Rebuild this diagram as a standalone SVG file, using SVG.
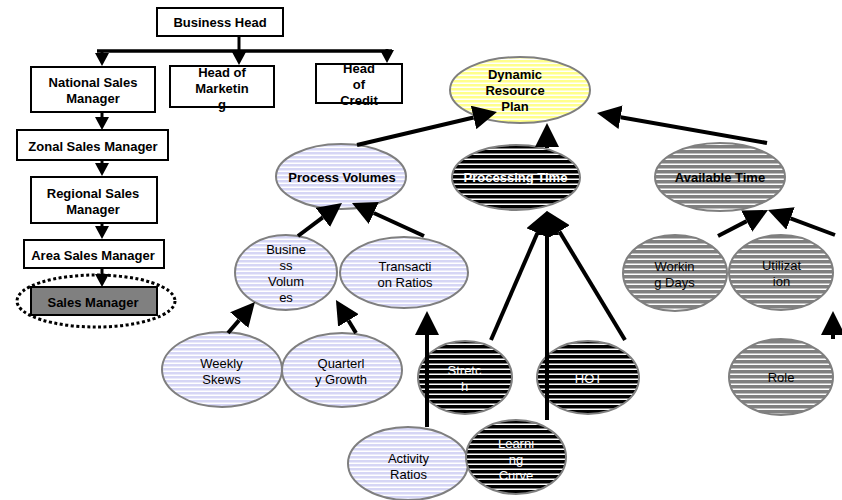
<svg xmlns="http://www.w3.org/2000/svg" width="842" height="500" viewBox="0 0 842 500">
  <style>
    .box { fill: #ffffff; stroke: #000000; stroke-width: 2; }
    .bt { font-family: "Liberation Sans", Arial, sans-serif; font-size: 13px; font-weight: bold; fill: #000000; text-anchor: middle; }
    .et { font-family: "Liberation Sans", Arial, sans-serif; font-size: 13px; fill: #000000; text-anchor: middle; }
    .etb { font-family: "Liberation Sans", Arial, sans-serif; font-size: 13px; font-weight: bold; fill: #000000; text-anchor: middle; }
    .w { fill: #ffffff; }
    .ell { stroke: #7f7f7f; stroke-width: 2; }
    .lav { fill: url(#stripe-lav); }
    .yel { fill: url(#stripe-yel); }
    .blk { fill: url(#stripe-blk); }
    .gry { fill: url(#stripe-gry); }
    .org { stroke: #000000; stroke-width: 3; fill: none; marker-end: url(#head-s); }
    .conn { stroke: #000000; stroke-width: 4; fill: none; marker-end: url(#head-l); }
  </style>
  <defs>
    <pattern id="stripe-lav" patternUnits="userSpaceOnUse" width="8" height="4">
      <rect width="8" height="4" fill="#d6d6f5"/>
      <rect y="2.5" width="8" height="1.5" fill="#ffffff"/>
    </pattern>
    <pattern id="stripe-yel" patternUnits="userSpaceOnUse" width="8" height="4">
      <rect width="8" height="4" fill="#ffff8c"/>
      <rect y="2.5" width="8" height="1.5" fill="#ffffff"/>
    </pattern>
    <pattern id="stripe-blk" patternUnits="userSpaceOnUse" width="8" height="5">
      <rect width="8" height="5" fill="#000000"/>
      <rect y="3.5" width="8" height="1.5" fill="#ffffff"/>
    </pattern>
    <pattern id="stripe-gry" patternUnits="userSpaceOnUse" width="8" height="5">
      <rect width="8" height="5" fill="#808080"/>
      <rect y="3.5" width="8" height="1.5" fill="#ffffff"/>
    </pattern>
    <marker id="head-s" markerUnits="userSpaceOnUse" markerWidth="13" markerHeight="14" refX="0" refY="7" orient="auto">
      <path d="M0,0 L13,7 L0,14 Z" fill="#000000"/>
    </marker>
    <marker id="head-l" markerUnits="userSpaceOnUse" markerWidth="24" markerHeight="24" refX="0" refY="12" orient="auto">
      <path d="M0,0 L24,12 L0,24 Z" fill="#000000"/>
    </marker>
  </defs>

  <rect width="842" height="500" fill="#ffffff"/>

  <!-- organisation chart -->
  <g id="business-head">
    <rect class="box" x="157" y="8" width="126" height="28"/>
    <text class="bt" x="220" y="26.5">Business Head</text>
  </g>
  <g id="national-sales-manager">
    <rect class="box" x="31" y="67" width="124" height="45"/>
    <text class="bt" x="93" y="87">National Sales</text>
    <text class="bt" x="93" y="103">Manager</text>
  </g>
  <g id="head-of-marketing">
    <rect class="box" x="170" y="66" width="104" height="41"/>
    <text class="bt" x="222" y="77">Head of</text>
    <text class="bt" x="222" y="93">Marketin</text>
    <text class="bt" x="222" y="109">g</text>
  </g>
  <g id="head-of-credit">
    <rect class="box" x="316" y="64" width="86" height="39"/>
    <text class="bt" x="359" y="73">Head</text>
    <text class="bt" x="359" y="89">of</text>
    <text class="bt" x="359" y="105">Credit</text>
  </g>
  <g id="zonal-sales-manager">
    <rect class="box" x="17" y="130" width="151" height="30"/>
    <text class="bt" x="93" y="150.5">Zonal Sales Manager</text>
  </g>
  <g id="regional-sales-manager">
    <rect class="box" x="31" y="177" width="126" height="46"/>
    <text class="bt" x="93" y="197.5">Regional Sales</text>
    <text class="bt" x="93" y="213.5">Manager</text>
  </g>
  <g id="area-sales-manager">
    <rect class="box" x="24" y="240" width="140" height="28"/>
    <text class="bt" x="93" y="260">Area Sales Manager</text>
  </g>
  <g id="sales-manager">
    <ellipse cx="96" cy="301" rx="79" ry="26" fill="none" stroke="#000000" stroke-width="3" stroke-dasharray="3 2.5"/>
    <rect x="31" y="287" width="126" height="28" fill="#808080" stroke="#000000" stroke-width="2"/>
    <text class="bt" x="93" y="307">Sales Manager</text>
  </g>

  <!-- resource plan tree -->
  <g id="dynamic-resource-plan">
    <ellipse class="ell yel" cx="520" cy="90" rx="70" ry="33"/>
    <text class="etb" x="515" y="79">Dynamic</text>
    <text class="etb" x="515" y="95">Resource</text>
    <text class="etb" x="515" y="111">Plan</text>
  </g>
  <g id="process-volumes">
    <ellipse class="ell lav" cx="341" cy="176.5" rx="65" ry="32.5"/>
    <text class="etb" x="342" y="182">Process Volumes</text>
  </g>
  <g id="processing-time">
    <ellipse class="ell blk" cx="516" cy="177.5" rx="64" ry="32.5"/>
    <text class="etb w" x="515.5" y="182">Processing Time</text>
  </g>
  <g id="available-time">
    <ellipse class="ell gry" cx="720" cy="177" rx="65" ry="34"/>
    <text class="etb" x="720" y="182">Available Time</text>
  </g>
  <g id="business-volumes">
    <ellipse class="ell lav" cx="286" cy="272.5" rx="51" ry="37.5"/>
    <text class="et" x="286" y="254">Busine</text>
    <text class="et" x="286" y="270">ss</text>
    <text class="et" x="286" y="286">Volum</text>
    <text class="et" x="286" y="302">es</text>
  </g>
  <g id="transaction-ratios">
    <ellipse class="ell lav" cx="404" cy="272.5" rx="64" ry="35.5"/>
    <text class="et" x="405" y="271">Transacti</text>
    <text class="et" x="405" y="287">on Ratios</text>
  </g>
  <g id="working-days">
    <ellipse class="ell gry" cx="675" cy="273" rx="52" ry="38"/>
    <text class="et" x="674.5" y="270.5">Workin</text>
    <text class="et" x="674.5" y="286.5">g Days</text>
  </g>
  <g id="utilization">
    <ellipse class="ell gry" cx="781" cy="272.5" rx="52" ry="37.5"/>
    <text class="et" x="781.5" y="270">Utilizat</text>
    <text class="et" x="781.5" y="286">ion</text>
  </g>
  <g id="weekly-skews">
    <ellipse class="ell lav" cx="222" cy="369.5" rx="60" ry="37.5"/>
    <text class="et" x="221.5" y="368">Weekly</text>
    <text class="et" x="221.5" y="384">Skews</text>
  </g>
  <g id="quarterly-growth">
    <ellipse class="ell lav" cx="342" cy="370" rx="60" ry="37"/>
    <text class="et" x="341" y="368">Quarterl</text>
    <text class="et" x="341" y="384">y Growth</text>
  </g>
  <g id="stretch">
    <ellipse class="ell blk" cx="465" cy="377.5" rx="47" ry="36.5"/>
    <text class="et w" x="464.5" y="375">Stretc</text>
    <text class="et w" x="464.5" y="391">h</text>
  </g>
  <g id="hot">
    <ellipse class="ell blk" cx="588" cy="377.5" rx="51" ry="36.5"/>
    <text class="et w" x="588.5" y="382.5">HOT</text>
  </g>
  <g id="role">
    <ellipse class="ell gry" cx="781" cy="377" rx="52" ry="38"/>
    <text class="et" x="781" y="382">Role</text>
  </g>
  <g id="activity-ratios">
    <ellipse class="ell lav" cx="408" cy="463.5" rx="60" ry="36.5"/>
    <text class="et" x="408.5" y="463">Activity</text>
    <text class="et" x="408.5" y="478.5">Ratios</text>
  </g>
  <g id="learning-curve">
    <ellipse class="ell blk" cx="516" cy="457" rx="50" ry="37"/>
    <text class="et w" x="516" y="447.5">Learni</text>
    <text class="et w" x="516" y="463.5">ng</text>
    <text class="et w" x="516" y="479.5">Curve</text>
  </g>

  <!-- connectors -->
  <g id="connectors">
    <path d="M97,51 L392,51" stroke="#000000" stroke-width="3.5" fill="none"/>
    <path d="M239,36 L239,51" stroke="#000000" stroke-width="3" fill="none"/>
    <path class="org" d="M102,50 L102,53"/>
    <path class="org" d="M239,50 L239,52"/>
    <path class="org" d="M387,49 L387,50"/>
    <path class="org" d="M102,112 L102,117"/>
    <path class="org" d="M102,160 L102,163"/>
    <path class="org" d="M102,223 L102,226"/>
    <path class="org" d="M102,268 L102,274"/>

    <path class="conn" d="M357,145 L473.6,117.5"/>
    <path class="conn" d="M547,148 L547,147"/>
    <path class="conn" d="M767,143 L620.6,117.2"/>
    <path class="conn" d="M298,236 L322.8,217.4"/>
    <path class="conn" d="M424,236 L373.8,213"/>
    <path class="conn" d="M718,236 L746.7,221.1"/>
    <path class="conn" d="M835,235 L790.5,218.4"/>
    <path class="conn" d="M228,333 L239.2,320.1"/>
    <path class="conn" d="M356,333 L348.4,320.5"/>
    <path class="conn" d="M427,427 L427,335"/>
    <path class="conn" d="M491,340 L537.4,233"/>
    <path class="conn" d="M547,420 L547,235"/>
    <path class="conn" d="M625,340 L559.4,231.5"/>
    <path class="conn" d="M833,339 L833,335"/>
  </g>
</svg>
